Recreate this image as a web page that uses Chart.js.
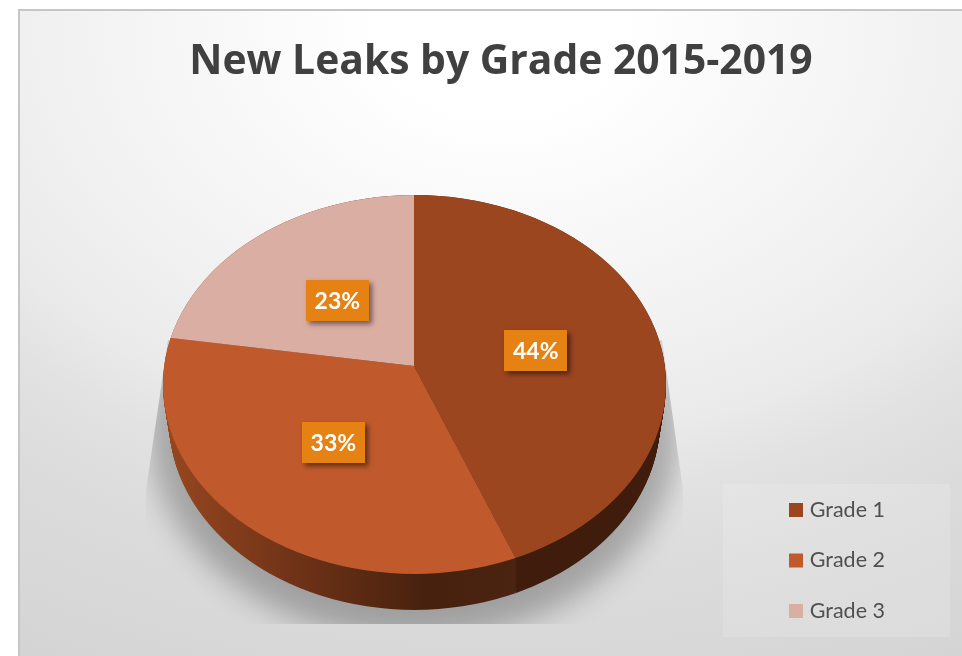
<!DOCTYPE html>
<html lang="en">
  <head>
    <meta charset="UTF-8" />
    <title>New Leaks by Grade 2015-2019</title>
    <style>
      body { margin: 0; background: #fff; }
      canvas { display: block; }
    </style>
  </head>
  <body>
    <canvas id="leakChart" width="962" height="656"></canvas>

    <script src="https://cdn.jsdelivr.net/npm/chart.js"></script>
    <script>
      const grades = ["Grade 1", "Grade 2", "Grade 3"];
      const leakShares = [44, 33, 23];
      const chartTitle = "New Leaks by Grade 2015-2019";

      const sliceColors = ["#9c4620", "#c05a2c", "#dbaea4"];
      const labelNudges = [[-1, 1], [-4, 5], [6, 2]];

      // 3d look: the arcs are squashed and sheared about the centre, then cut by an off-centre ellipse
      const squash = 0.74;
      const shear = 0.0225;
      const top3d = { x: 414.5, y: 384.5, rx: 251.5, ry: 189.5 };
      const depth = 36;
      const narrowing = 6;

      function ellipsePath(ctx, e) {
        ctx.beginPath();
        ctx.ellipse(e.x, e.y, e.rx, e.ry, 0, 0, Math.PI * 2);
      }

      // where a slice edge meets the rim of the top face
      function rimPoint(arc, angle) {
        let dx = Math.cos(angle);
        let dy = shear * dx + squash * Math.sin(angle);
        let t = 0;
        let x = arc.x;
        let y = arc.y;
        while (((x - top3d.x) / top3d.rx) ** 2 + ((y - top3d.y) / top3d.ry) ** 2 < 1) {
          t += 0.25;
          x = arc.x + t * dx;
          y = arc.y + t * dy;
        }
        return { x, y };
      }

      function wallFill(ctx, index) {
        if (index == 0) return "#3f1c0b";
        let g = ctx.createLinearGradient(165, 0, 515, 0);
        g.addColorStop(0, "#97471f");
        g.addColorStop(0.4, "#6c3117");
        g.addColorStop(0.75, "#47210e");
        g.addColorStop(1, "#4a2410");
        return g;
      }

      const framePlugin = {
        id: "frame",
        beforeDraw(chart) {
          let ctx = chart.ctx;
          ctx.save();
          ctx.save();
          ctx.beginPath();
          ctx.rect(18, 10, 944, 646);
          ctx.clip();
          ctx.translate(500, 30);
          ctx.scale(1, 1 / 1.4);
          let g = ctx.createRadialGradient(0, 0, 0, 0, 0, 1000);
          g.addColorStop(0.12, "#ffffff");
          g.addColorStop(0.45, "#f1f1f1");
          g.addColorStop(0.58, "#eaeaea");
          g.addColorStop(0.66, "#e2e2e2");
          g.addColorStop(0.76, "#dcdcdc");
          g.addColorStop(1, "#d4d4d4");
          ctx.fillStyle = g;
          ctx.fillRect(-1000, -100, 2000, 1500);
          ctx.restore();
          ctx.fillStyle = "#c6c6c6";
          ctx.fillRect(18, 9, 944, 2);
          ctx.fillRect(18, 9, 2, 647);
          // legend panel
          ctx.fillStyle = "rgba(255,255,255,0.15)";
          ctx.fillRect(723, 484, 227, 153);
          ctx.restore();
        },
        afterLayout(chart) {
          chart.titleBlock.left = 0;
          chart.titleBlock.right = 1002;
          let legend = chart.legend;
          legend.left = 793 - 29;
          legend.right = 962;
          legend.top = 470.25;
          legend.bottom = 660;
        },
      };

      const pie3dPlugin = {
        id: "pie3d",
        beforeDatasetsDraw(chart) {
          let ctx = chart.ctx;
          let arcs = chart.getDatasetMeta(0).data;
          let cx = arcs[0].x;
          let cy = arcs[0].y;

          // floor shadow, cut off by a trapezoid like the original
          ctx.save();
          ctx.beginPath();
          ctx.moveTo(168, 340);
          ctx.lineTo(146, 490);
          ctx.lineTo(146, 624);
          ctx.lineTo(683, 624);
          ctx.lineTo(683, 490);
          ctx.lineTo(662, 340);
          ctx.closePath();
          ctx.clip();
          ctx.shadowColor = "rgba(0,0,0,0.27)";
          ctx.shadowBlur = 30;
          ctx.shadowOffsetX = 2000;
          ctx.fillStyle = "#000";
          ellipsePath(ctx, { x: 414 - 2000, y: 425, rx: 266, ry: 215 });
          ctx.fill();
          ctx.restore();

          // side wall, only the slices that reach the front show one
          arcs.forEach((arc, i) => {
            let startHit = rimPoint(arc, arc.startAngle);
            let endHit = rimPoint(arc, arc.endAngle);
            let startLow = Math.sin(arc.startAngle) > 0;
            let endLow = Math.sin(arc.endAngle) > 0;
            if (!startLow && !endLow) return;
            let left = endLow ? endHit.x : 0;
            let right = startLow ? startHit.x : 962;
            ctx.save();
            ctx.beginPath();
            ctx.rect(left, 0, right - left, 656);
            ctx.clip();
            ctx.fillStyle = wallFill(ctx, i);
            for (let d = 0; d <= depth; d++) {
              ellipsePath(ctx, {
                x: top3d.x,
                y: top3d.y + d,
                rx: top3d.rx - (narrowing * d) / depth,
                ry: top3d.ry,
              });
              ctx.fill();
            }
            ctx.restore();
          });

          // top face: library arcs, squashed and clipped
          ctx.save();
          ellipsePath(ctx, top3d);
          ctx.clip();
          ctx.translate(cx, cy);
          ctx.transform(1, shear, 0, squash, 0, 0);
          ctx.translate(-cx, -cy);
        },
        afterDatasetsDraw(chart) {
          let ctx = chart.ctx;
          ctx.restore();

          // percent labels
          let arcs = chart.getDatasetMeta(0).data;
          ctx.save();
          ctx.font = "bold 23px Lato";
          ctx.textAlign = "center";
          ctx.textBaseline = "middle";
          arcs.forEach((arc, i) => {
            let mid = (arc.startAngle + arc.endAngle) / 2;
            let lx = arc.x + 125 * Math.cos(mid) + labelNudges[i][0];
            let ly = arc.y + 90 * Math.sin(mid) + labelNudges[i][1];
            ctx.save();
            ctx.shadowColor = "rgba(0,0,0,0.5)";
            ctx.shadowBlur = 5;
            ctx.shadowOffsetX = 3;
            ctx.shadowOffsetY = 3;
            ctx.fillStyle = "#e58213";
            ctx.fillRect(Math.round(lx - 31.5), Math.round(ly - 20.5), 63, 41);
            ctx.restore();
            ctx.fillStyle = "#fff";
            ctx.fillText(leakShares[i] + "%", lx, ly + 1);
          });
          ctx.restore();
        },
      };

      let canvas = document.querySelector("#leakChart");
      let chart = new Chart(canvas, {
        type: "pie",
        data: {
          labels: grades,
          datasets: [
            {
              data: leakShares,
              backgroundColor: sliceColors,
              borderWidth: 0,
            },
          ],
        },
        options: {
          responsive: false,
          animation: false,
          radius: 320,
          events: [],
          layout: { padding: { left: 0, right: 134, top: 0, bottom: 10.4 } },
          plugins: {
            title: {
              display: true,
              text: chartTitle,
              color: "#404040",
              font: { family: "Open Sans", size: 40.8, weight: "bold" },
              padding: { top: 37.44, bottom: 0 },
            },
            legend: {
              position: "chartArea",
              align: "start",
              labels: {
                boxWidth: 6,
                boxHeight: 6,
                padding: 29,
                color: "#505050",
                font: { family: "Lato", size: 21.5 },
                generateLabels(c) {
                  let items = Chart.overrides.pie.plugins.legend.labels.generateLabels(c);
                  return items.map((item) => {
                    item.strokeStyle = item.fillStyle;
                    item.lineWidth = 8;
                    return item;
                  });
                },
              },
            },
            tooltip: { enabled: false },
          },
        },
        plugins: [framePlugin, pie3dPlugin],
      });
    </script>
  </body>
</html>
